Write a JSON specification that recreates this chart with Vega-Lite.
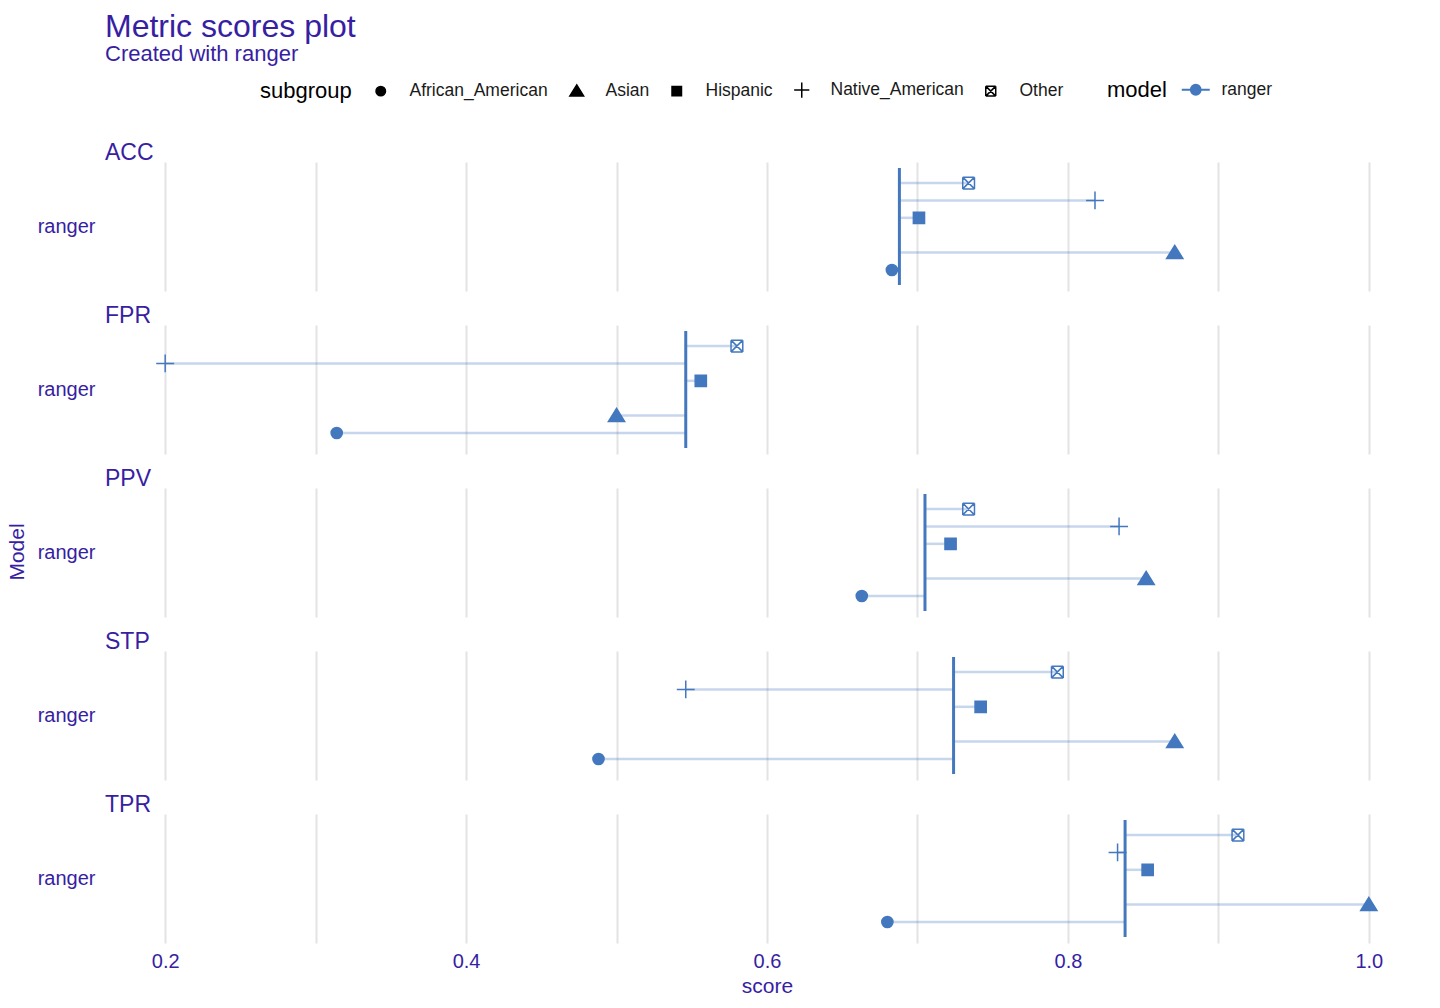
{
  "$schema": "https://vega.github.io/schema/vega-lite/v6.json",
  "padding": {"top": 11, "left": 6, "right": 10, "bottom": 5},
  "background": "white",
  "title": {
    "text": "Metric scores plot",
    "subtitle": "Created with ranger",
    "anchor": "start",
    "dx": 99,
    "fontSize": 32,
    "subtitleFontSize": 22,
    "font": "Liberation Sans",
    "subtitleFont": "Liberation Sans",
    "fontWeight": "normal",
    "color": "#371ea3",
    "subtitleColor": "#371ea3",
    "subtitlePadding": 0,
    "offset": 15
  },
  "spacing": 7,
  "hconcat": [
    {
      "width": 24,
      "height": 780,
      "data": {"values": [{"axis_title": "Model"}]},
      "mark": {"type": "text", "angle": 270, "fontSize": 21, "font": "Liberation Sans", "color": "#371ea3", "baseline": "middle", "align": "center"},
      "encoding": {"text": {"field": "axis_title", "type": "nominal"}}
    },
    {
      "data": {
        "values": [
          {"metric": "ACC", "model": "ranger", "subgroup": "Other", "score": 0.734, "priv": 0.688},
          {"metric": "ACC", "model": "ranger", "subgroup": "Native_American", "score": 0.818, "priv": 0.688},
          {"metric": "ACC", "model": "ranger", "subgroup": "Hispanic", "score": 0.701, "priv": 0.688},
          {"metric": "ACC", "model": "ranger", "subgroup": "Asian", "score": 0.871, "priv": 0.688},
          {"metric": "ACC", "model": "ranger", "subgroup": "African_American", "score": 0.683, "priv": 0.688},
          {"metric": "FPR", "model": "ranger", "subgroup": "Other", "score": 0.580, "priv": 0.546},
          {"metric": "FPR", "model": "ranger", "subgroup": "Native_American", "score": 0.200, "priv": 0.546},
          {"metric": "FPR", "model": "ranger", "subgroup": "Hispanic", "score": 0.556, "priv": 0.546},
          {"metric": "FPR", "model": "ranger", "subgroup": "Asian", "score": 0.500, "priv": 0.546},
          {"metric": "FPR", "model": "ranger", "subgroup": "African_American", "score": 0.314, "priv": 0.546},
          {"metric": "PPV", "model": "ranger", "subgroup": "Other", "score": 0.734, "priv": 0.705},
          {"metric": "PPV", "model": "ranger", "subgroup": "Native_American", "score": 0.834, "priv": 0.705},
          {"metric": "PPV", "model": "ranger", "subgroup": "Hispanic", "score": 0.722, "priv": 0.705},
          {"metric": "PPV", "model": "ranger", "subgroup": "Asian", "score": 0.852, "priv": 0.705},
          {"metric": "PPV", "model": "ranger", "subgroup": "African_American", "score": 0.663, "priv": 0.705},
          {"metric": "STP", "model": "ranger", "subgroup": "Other", "score": 0.793, "priv": 0.724},
          {"metric": "STP", "model": "ranger", "subgroup": "Native_American", "score": 0.546, "priv": 0.724},
          {"metric": "STP", "model": "ranger", "subgroup": "Hispanic", "score": 0.742, "priv": 0.724},
          {"metric": "STP", "model": "ranger", "subgroup": "Asian", "score": 0.871, "priv": 0.724},
          {"metric": "STP", "model": "ranger", "subgroup": "African_American", "score": 0.488, "priv": 0.724},
          {"metric": "TPR", "model": "ranger", "subgroup": "Other", "score": 0.913, "priv": 0.838},
          {"metric": "TPR", "model": "ranger", "subgroup": "Native_American", "score": 0.833, "priv": 0.838},
          {"metric": "TPR", "model": "ranger", "subgroup": "Hispanic", "score": 0.853, "priv": 0.838},
          {"metric": "TPR", "model": "ranger", "subgroup": "Asian", "score": 1.000, "priv": 0.838},
          {"metric": "TPR", "model": "ranger", "subgroup": "African_American", "score": 0.680, "priv": 0.838}
        ]
      },
      "facet": {
        "field": "metric",
        "type": "nominal",
        "sort": ["ACC", "FPR", "PPV", "STP", "TPR"],
        "header": {
          "title": null,
          "labelAnchor": "start",
          "labelFontSize": 23,
          "labelFont": "Liberation Sans",
          "labelColor": "#371ea3",
          "labelPadding": -3
        }
      },
      "columns": 1,
      "spacing": {"row": 14},
      "spec": {
        "width": 1324,
        "height": 129,
        "layer": [
          {
            "mark": {"type": "rule", "color": "#4378bf", "opacity": 0.3, "strokeWidth": 2.5},
            "encoding": {
              "x": {"field": "priv", "type": "quantitative"},
              "x2": {"field": "score"},
              "y": {"field": "model", "type": "nominal"},
              "yOffset": {"field": "subgroup", "type": "nominal"}
            }
          },
          {
            "transform": [{"aggregate": [{"op": "mean", "field": "priv", "as": "priv"}], "groupby": ["model"]}],
            "mark": {"type": "tick", "color": "#4378bf", "size": 117, "thickness": 3, "opacity": 1},
            "encoding": {
              "x": {"field": "priv", "type": "quantitative"},
              "y": {"field": "model", "type": "nominal"}
            }
          },
          {
            "mark": {"type": "point", "filled": true, "size": 125, "stroke": "#4378bf", "strokeWidth": 1.5, "opacity": 1},
            "encoding": {
              "x": {
                "field": "score",
                "type": "quantitative",
                "title": "score",
                "scale": {"domain": [0.16, 1.04], "nice": false, "zero": false},
                "axis": {
                  "values": [0.2, 0.3, 0.4, 0.5, 0.6, 0.7, 0.8, 0.9, 1.0],
                  "labelExpr": "abs(round(datum.value*10) % 2) == 0 ? format(datum.value, '.1f') : ''",
                  "grid": true,
                  "gridColor": "#e3e3e3",
                  "gridWidth": 2,
                  "domain": false,
                  "ticks": false,
                  "labelFontSize": 20,
                  "labelColor": "#371ea3",
                  "labelFont": "Liberation Sans",
                  "labelPadding": 8,
                  "titleFontSize": 21,
                  "titleColor": "#371ea3",
                  "titleFont": "Liberation Sans",
                  "titleFontWeight": "normal",
                  "titlePadding": 4
                }
              },
              "y": {
                "field": "model",
                "type": "nominal",
                "title": null,
                "scale": {"paddingOuter": 0.118, "paddingInner": 0},
                "axis": {
                  "grid": false,
                  "domain": false,
                  "ticks": false,
                  "labelFontSize": 20,
                  "labelColor": "#371ea3",
                  "labelFont": "Liberation Sans",
                  "labelPadding": 10
                }
              },
              "yOffset": {
                "field": "subgroup",
                "type": "nominal",
                "scale": {"domain": ["Other", "Native_American", "Hispanic", "White", "Asian", "African_American"], "paddingInner": 0, "paddingOuter": 0}
              },
              "shape": {
                "field": "subgroup",
                "type": "nominal",
                "title": "subgroup",
                "scale": {
                  "domain": ["African_American", "Asian", "Hispanic", "Native_American", "Other"],
                  "range": [
                    "circle",
                    "M0,-1.3L1.45,1.05L-1.45,1.05Z",
                    "square",
                    "M-1.6,0L1.6,0M0,-1.6L0,1.6",
                    "M-1.05,-1.05L1.05,-1.05M1.05,-1.05L1.05,1.05M1.05,1.05L-1.05,1.05M-1.05,1.05L-1.05,-1.05M-1.05,-1.05L1.05,1.05M-1.05,1.05L1.05,-1.05"
                  ]
                },
                "legend": {
                  "orient": "none",
                  "direction": "horizontal",
                  "legendX": 254,
                  "legendY": -81,
                  "titleOrient": "left",
                  "titleFontSize": 22,
                  "titleFont": "Liberation Sans",
                  "titleFontWeight": "normal",
                  "titleColor": "black",
                  "titlePadding": 20,
                  "labelFontSize": 17.5,
                  "labelFont": "Liberation Sans",
                  "labelColor": "#1a1a1a",
                  "labelOffset": 20,
                  "columnPadding": 18,
                  "symbolSize": 90,
                  "symbolStrokeWidth": 1.5,
                  "symbolFillColor": "black",
                  "symbolStrokeColor": "black"
                }
              },
              "color": {
                "field": "model",
                "type": "nominal",
                "title": "model",
                "scale": {"range": ["#4378bf"]},
                "legend": {
                  "orient": "none",
                  "direction": "horizontal",
                  "legendX": 1101,
                  "legendY": -81,
                  "titleOrient": "left",
                  "titleFontSize": 22,
                  "titleFont": "Liberation Sans",
                  "titleFontWeight": "normal",
                  "titleColor": "black",
                  "titlePadding": 20,
                  "labelFontSize": 17.5,
                  "labelFont": "Liberation Sans",
                  "labelColor": "#1a1a1a",
                  "labelOffset": 17,
                  "symbolType": "M-2,0L-0.7,0M0.7,0L2,0M-0.7,0A0.7,0.7 0 1,1 0.7,0A0.7,0.7 0 1,1 -0.7,0",
                  "symbolSize": 196,
                  "symbolStrokeWidth": 2
                }
              }
            }
          }
        ]
      }
    }
  ],
  "config": {
    "view": {"stroke": null},
    "font": "Liberation Sans"
  }
}
